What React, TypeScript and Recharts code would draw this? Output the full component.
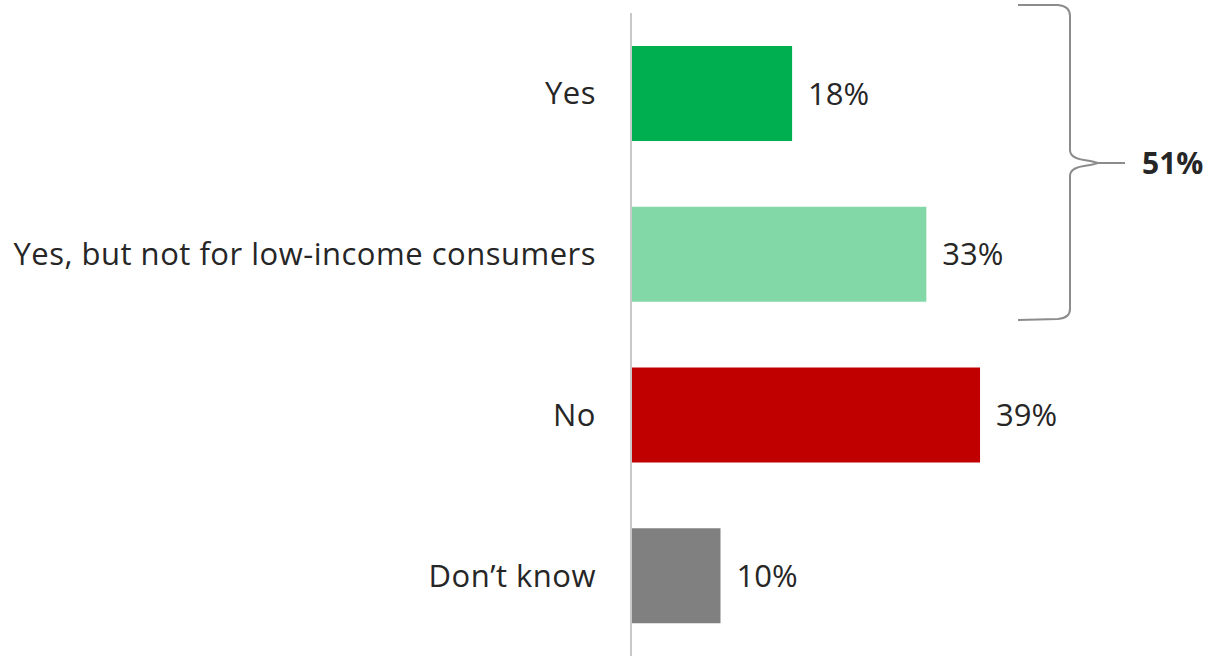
import React from 'react';
import { BarChart, Bar, XAxis, YAxis, Cell, LabelList, Customized } from 'recharts';

const categories = ['Yes', 'Yes, but not for low-income consumers', 'No', 'Don\u2019t know'];
const shares = [18, 33, 39, 10];
const barColors = ['#00B050', '#83D8A8', '#C00000', '#808080'];
const bracketLabel = '51%';

const data = categories.map((name, i) => ({ name, value: shares[i] }));

const FONT = '"Open Sans", Lato, sans-serif';

// curly brace grouping the two "yes" answers
const Brace = () => (
    <g>
        <path
            d="M1018,5 L1058,5 Q1070,6 1070,16 L1070,150 Q1070,158 1084,160 Q1092,161 1098,163 L1125,163 M1098,163 Q1092,165 1084,166 Q1070,168 1070,176 L1070,309 Q1070,318 1058,319 L1018,320"
            fill="none"
            stroke="#8C8C8C"
            strokeWidth={2}
        />
        <text x={1142} y={174} fontFamily={FONT} fontSize={30} fontWeight="bold" fill="#262626">
            {bracketLabel}
        </text>
    </g>
);

const App: React.FC = () => (
    <div style={{ position: 'fixed', left: 0, top: 0, background: '#fff' }}>
        <BarChart
            width={1211}
            height={656}
            data={data}
            layout="vertical"
            margin={{ top: 13, right: 43, left: 0, bottom: 0 }}
            barSize={95}
        >
            <XAxis type="number" domain={[0, 60]} hide />
            <YAxis
                type="category"
                dataKey="name"
                width={631}
                axisLine={{ stroke: '#C8C8C8', strokeWidth: 2 }}
                tickLine={false}
                tickMargin={29}
                tick={{ fontFamily: FONT, fontSize: 31, fill: '#262626', letterSpacing: 0.5 }}
            />
            <Bar dataKey="value" isAnimationActive={false}>
                {data.map((d, i) => (
                    <Cell key={d.name} fill={barColors[i]} />
                ))}
                <LabelList
                    dataKey="value"
                    position="right"
                    offset={16}
                    formatter={(v: number) => `${v}%`}
                    style={{ fontFamily: FONT, fontSize: 31, fill: '#262626' }}
                />
            </Bar>
            <Customized component={Brace} />
        </BarChart>
    </div>
);

export default App;
